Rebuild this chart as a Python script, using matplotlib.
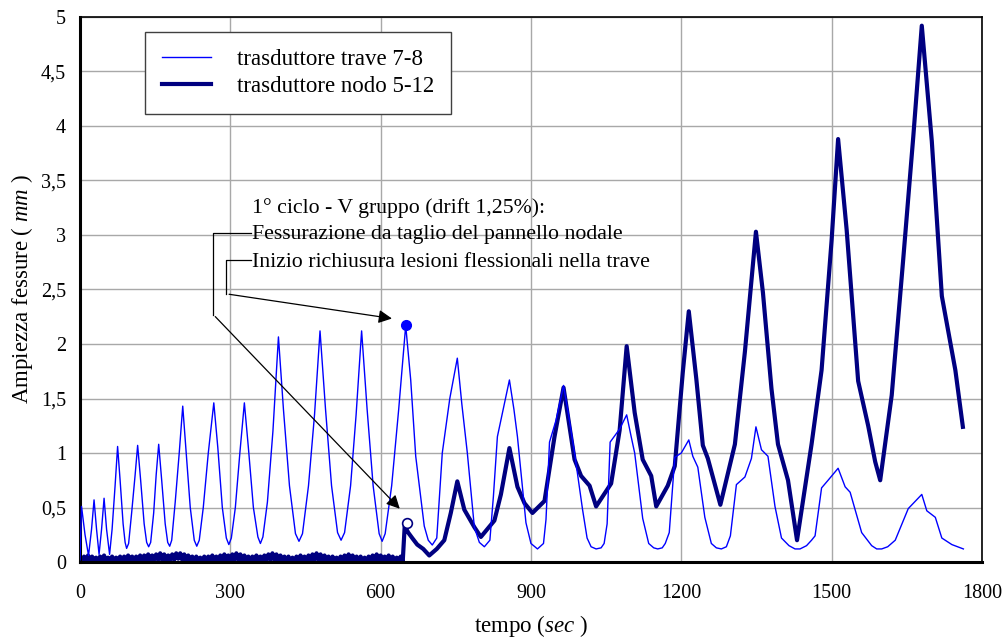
import matplotlib
matplotlib.use("Agg")
import matplotlib.pyplot as plt
from matplotlib.ticker import FuncFormatter

plt.rcParams['font.family'] = ['Liberation Serif', 'DejaVu Serif']
plt.rcParams['mathtext.fontset'] = 'custom'
plt.rcParams['mathtext.rm'] = 'Liberation Serif'
plt.rcParams['mathtext.it'] = 'Liberation Serif:italic'

# trasduttore trave 7-8 (sec, mm)
trave_t = [0, 3, 10, 17, 23, 28, 33, 38, 43, 48, 53, 59,
           64, 70, 75, 80, 86, 90, 93, 97, 103, 110, 115, 121, 128, 133, 137,
           141, 147, 152, 157, 163, 170, 175, 179, 183, 190, 198, 205, 212,
           220, 228, 233, 238, 246, 256, 267, 275, 284, 292, 297, 302, 310,
           319, 328, 336, 346, 355, 360, 365, 374, 385, 396, 406, 418, 430,
           437, 444, 456, 468, 479, 490, 502, 514, 521, 528, 540, 551, 562,
           573, 585, 597, 603, 609, 622, 636, 650, 660, 670, 687, 695, 703,
           712, 723, 738, 753, 762, 773, 787, 797, 807, 818, 825, 833, 857,
           866, 873, 890, 900, 913, 925, 930, 937, 950, 965, 975, 987, 1003,
           1012, 1020, 1030, 1040, 1046, 1052, 1058, 1077, 1091, 1100, 1107,
           1123, 1135, 1145, 1153, 1162, 1168, 1176, 1187, 1200, 1215, 1223,
           1233, 1247, 1260, 1270, 1280, 1290, 1298, 1310, 1327, 1340, 1349,
           1360, 1373, 1387, 1400, 1415, 1427, 1437, 1450, 1460, 1467, 1480,
           1493, 1513, 1527, 1537, 1560, 1580, 1590, 1600, 1612, 1627, 1653,
           1680, 1690, 1707, 1720, 1740, 1763]
trave_v = [0.02, 0.51, 0.25, 0.06, 0.3, 0.57, 0.3, 0.07, 0.3, 0.585, 0.3, 0.07,
           0.3, 0.7, 1.06, 0.75, 0.35, 0.18, 0.125, 0.17, 0.45, 0.8, 1.07, 0.75,
           0.35, 0.18, 0.14, 0.18, 0.45, 0.8, 1.08, 0.75, 0.35, 0.18, 0.145,
           0.2, 0.55, 1.0, 1.43, 1.0, 0.5, 0.2, 0.145, 0.2, 0.5, 1.0, 1.46,
           1.05, 0.5, 0.22, 0.16, 0.22, 0.5, 1.0, 1.46, 1.05, 0.5, 0.23, 0.17,
           0.23, 0.55, 1.2, 2.065, 1.4, 0.7, 0.26, 0.19, 0.26, 0.7, 1.35, 2.12,
           1.4, 0.7, 0.27, 0.2, 0.27, 0.7, 1.35, 2.12, 1.4, 0.7, 0.26, 0.19,
           0.26, 0.7, 1.4, 2.17, 1.67, 0.97, 0.33, 0.2, 0.156, 0.22, 1.0, 1.5,
           1.87, 1.45, 1.0, 0.32, 0.18, 0.14, 0.2, 0.6, 1.15, 1.67, 1.4, 1.15,
           0.36, 0.17, 0.12, 0.17, 0.39, 1.1, 1.3, 1.62, 1.35, 1.0, 0.48, 0.22,
           0.14, 0.12, 0.13, 0.17, 0.35, 1.1, 1.22, 1.35, 1.15, 1.0, 0.4, 0.17,
           0.13, 0.12, 0.13, 0.17, 0.27, 0.96, 1.0, 1.12, 0.97, 0.87, 0.41,
           0.17, 0.13, 0.12, 0.14, 0.24, 0.71, 0.78, 0.95, 1.24, 1.03, 0.97,
           0.51, 0.22, 0.15, 0.12, 0.12, 0.15, 0.2, 0.24, 0.68, 0.75, 0.86,
           0.69, 0.64, 0.27, 0.15, 0.12, 0.12, 0.14, 0.2, 0.49, 0.62, 0.47,
           0.41, 0.22, 0.16, 0.12]

# trasduttore nodo 5-12 (sec, mm): noisy baseline up to ~640 s, then cycles
nodo_t = [0, 4, 8, 12, 16, 20, 24, 28, 32, 36,
          40, 44, 48, 52, 56, 60, 64, 68, 72, 76,
          80, 84, 88, 92, 96, 100, 104, 108, 112, 116,
          120, 124, 128, 132, 136, 140, 144, 148, 152, 156,
          160, 164, 168, 172, 176, 180, 184, 188, 192, 196,
          200, 204, 208, 212, 216, 220, 224, 228, 232, 236,
          240, 244, 248, 252, 256, 260, 264, 268, 272, 276,
          280, 284, 288, 292, 296, 300, 304, 308, 312, 316,
          320, 324, 328, 332, 336, 340, 344, 348, 352, 356,
          360, 364, 368, 372, 376, 380, 384, 388, 392, 396,
          400, 404, 408, 412, 416, 420, 424, 428, 432, 436,
          440, 444, 448, 452, 456, 460, 464, 468, 472, 476,
          480, 484, 488, 492, 496, 500, 504, 508, 512, 516,
          520, 524, 528, 532, 536, 540, 544, 548, 552, 556,
          560, 564, 568, 572, 576, 580, 584, 588, 592, 596,
          600, 604, 608, 612, 616, 620, 624, 628, 632, 636,
          640,
          644, 648, 655, 663, 673, 685, 697, 712, 727, 740,
          753, 767, 787, 800, 827, 840, 857, 873, 887, 903,
          927, 947, 965, 987, 1000, 1017, 1030, 1060, 1077, 1091,
          1107, 1123, 1140, 1150, 1173, 1187, 1203, 1215, 1230, 1243,
          1253, 1278, 1307, 1327, 1349, 1363, 1380, 1393, 1413, 1431,
          1460, 1480, 1500, 1513, 1530, 1553, 1573, 1587, 1597, 1620,
          1643, 1663, 1680, 1700, 1720, 1747, 1762]
nodo_v = [0.04, 0.0, 0.05, 0.01, 0.06, 0.0, 0.05, 0.01, 0.04, 0.0,
          0.05, 0.01, 0.06, 0.0, 0.04, 0.01, 0.05, 0.0, 0.04, 0.01,
          0.05, 0.0, 0.05, 0.01, 0.06, 0.01, 0.05, 0.0, 0.05, 0.01,
          0.06, 0.01, 0.06, 0.02, 0.07, 0.01, 0.06, 0.02, 0.07, 0.02,
          0.08, 0.02, 0.07, 0.01, 0.06, 0.02, 0.07, 0.02, 0.08, 0.03,
          0.08, 0.02, 0.07, 0.01, 0.06, 0.01, 0.05, 0.0, 0.05, 0.01,
          0.04, 0.0, 0.05, 0.0, 0.05, 0.01, 0.06, 0.01, 0.05, 0.0,
          0.06, 0.01, 0.07, 0.02, 0.06, 0.01, 0.07, 0.02, 0.08, 0.02,
          0.07, 0.01, 0.06, 0.01, 0.05, 0.0, 0.05, 0.01, 0.06, 0.01,
          0.05, 0.01, 0.06, 0.02, 0.07, 0.02, 0.08, 0.02, 0.07, 0.01,
          0.06, 0.01, 0.05, 0.0, 0.05, 0.0, 0.04, 0.0, 0.05, 0.01,
          0.06, 0.01, 0.05, 0.0, 0.06, 0.01, 0.07, 0.02, 0.08, 0.02,
          0.07, 0.01, 0.06, 0.01, 0.05, 0.0, 0.05, 0.01, 0.04, 0.0,
          0.05, 0.01, 0.06, 0.01, 0.07, 0.02, 0.06, 0.01, 0.05, 0.0,
          0.05, 0.0, 0.04, 0.0, 0.05, 0.01, 0.06, 0.01, 0.07, 0.02,
          0.06, 0.01, 0.05, 0.01, 0.06, 0.0, 0.05, 0.0, 0.04, 0.01,
          0.05,
          0.0, 0.33, 0.27, 0.22, 0.16, 0.12, 0.06, 0.12, 0.2, 0.45,
          0.74, 0.48, 0.32, 0.23, 0.38, 0.62, 1.045, 0.69, 0.54, 0.45,
          0.56, 1.15, 1.6, 0.94, 0.79, 0.7, 0.51, 0.72, 1.21, 1.98,
          1.37, 0.94, 0.79, 0.51, 0.7, 0.88, 1.74, 2.30, 1.68, 1.07,
          0.95, 0.525, 1.08, 1.93, 3.03, 2.47, 1.59, 1.08, 0.75, 0.2,
          1.08, 1.76, 2.95, 3.88, 3.05, 1.66, 1.25, 0.92, 0.75, 1.53,
          2.78, 3.9, 4.92, 3.86, 2.44, 1.76, 1.24]

# annotated points
peak_pt = (650, 2.17)
jump_pt = (653, 0.36)

y_ticks = [0, 0.5, 1, 1.5, 2, 2.5, 3, 3.5, 4, 4.5, 5]
x_ticks = [0, 300, 600, 900, 1200, 1500, 1800]

fig = plt.figure(figsize=(10.04, 6.38), dpi=100)
ax = fig.add_axes([0.0797, 0.1191, 0.8983, 0.8543])

ax.plot(trave_t, trave_v, color='#0000FF', lw=1.0, label='trasduttore trave 7-8', zorder=3)
ax.plot(nodo_t, nodo_v, color='#000080', lw=3.0, label='trasduttore nodo 5-12', zorder=2)

ax.set_xlim(0, 1800)
ax.set_ylim(0, 5)
ax.set_xticks(x_ticks)
ax.set_yticks(y_ticks)
ax.yaxis.set_major_formatter(FuncFormatter(lambda v, p: ('%g' % v).replace('.', ',')))
ax.tick_params(length=0, labelsize=14.5)
ax.tick_params(axis='x', pad=16)
ax.tick_params(axis='y', pad=10)
ax.grid(True, color='#a8a8a8', lw=1.0)
ax.set_axisbelow(True)
for s in ['top', 'right']:
    ax.spines[s].set_linewidth(1.2)
for s in ['left', 'bottom']:
    ax.spines[s].set_linewidth(2.2)

ax.set_xlabel('tempo ($\\it{sec}$ )', fontsize=16.5, labelpad=7)
ax.set_ylabel('Ampiezza fessure ( $\\it{mm}$ )', fontsize=16.5, labelpad=4)

leg = ax.legend(loc='upper left', bbox_to_anchor=(0.072, 0.9725), fontsize=16.5,
                fancybox=False, framealpha=1, edgecolor='#404040',
                handlelength=2.15, handletextpad=1.1, borderpad=0.75,
                labelspacing=0.25, borderaxespad=0)
leg.get_frame().set_linewidth(1.0)

# markers on the annotated points
ax.plot(*peak_pt, 'o', color='#0000FF', ms=7, zorder=5)
ax.plot(*jump_pt, 'o', mfc='white', mec='#000080', ms=7, mew=1.2, zorder=5)

# annotation text
ax.text(344, 3.25, '1° ciclo - V gruppo (drift 1,25%):', fontsize=15.7, va='center')
ax.text(344, 3.0, 'Fessurazione da taglio del pannello nodale', fontsize=15.7, va='center')
ax.text(344, 2.75, 'Inizio richiusura lesioni flessionali nella trave', fontsize=15.7, va='center')

# elbow connectors
ax.plot([342, 266, 266], [3.02, 3.02, 2.27], color='black', lw=0.9)
ax.annotate('', xy=(642, 0.47), xytext=(266, 2.27),
            arrowprops=dict(arrowstyle='-|>', color='black', lw=0.9, mutation_scale=20))
ax.plot([342, 292, 292], [2.77, 2.77, 2.46], color='black', lw=0.9)
ax.annotate('', xy=(628, 2.23), xytext=(292, 2.46),
            arrowprops=dict(arrowstyle='-|>', color='black', lw=0.9, mutation_scale=20))

fig.savefig('out.png', dpi=100)
